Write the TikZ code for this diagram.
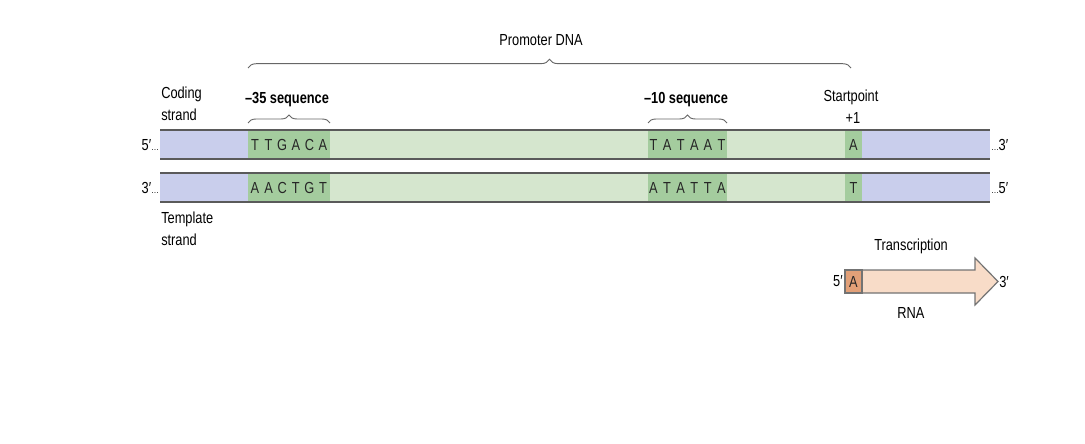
\documentclass[tikz,border=0pt]{standalone}
\usepackage{fontspec}
\setmainfont{Liberation Sans}[FakeStretch=0.8]
\usetikzlibrary{decorations.pathreplacing}

\definecolor{strandblue}{RGB}{201,206,236}
\definecolor{promgreen}{RGB}{213,230,206}
\definecolor{boxgreen}{RGB}{164,204,158}
\definecolor{rnafill}{RGB}{248,220,200}
\definecolor{rnabox}{RGB}{226,160,120}
\definecolor{edgegray}{RGB}{90,90,90}

\tikzset{
  lbl/.style={font=\fontsize{12}{16.5}\selectfont, inner sep=0pt},
  seqlbl/.style={font=\bfseries\fontsize{12}{14}\selectfont, inner sep=0pt},
  base/.style={font=\fontsize{12}{14}\selectfont, inner sep=0pt, text=black!85},
  bracebig/.style={draw=black!60, line width=0.7pt, decorate, decoration={brace, amplitude=6.5pt}},
  bracesmall/.style={draw=black!60, line width=0.7pt, decorate, decoration={brace, amplitude=6pt}},
  edge/.style={draw=edgegray, line width=1.1pt}
}

\begin{document}
\begin{tikzpicture}[x=0.75pt,y=0.75pt,yscale=-1]
\useasboundingbox (0,0) rectangle (1085,443);

% strands
\fill[strandblue] (160,130) rectangle (990,159);
\fill[strandblue] (160,173) rectangle (990,202);
\fill[promgreen] (248,130) rectangle (862,159);
\fill[promgreen] (248,173) rectangle (862,202);
\foreach \ya/\yb in {130/159,173/202}{
  \fill[boxgreen] (248,\ya) rectangle (330,\yb);
  \fill[boxgreen] (648,\ya) rectangle (727,\yb);
  \fill[boxgreen] (845,\ya) rectangle (862,\yb);
}
\foreach \y in {130,159,173,202}
  \draw[edge] (160,\y) -- (990,\y);

% bases
\foreach \b [count=\i] in {T,T,G,A,C,A}
  \node[base] (cod35-\i) at (255+13.6*\i-13.6,145) {\b};
\foreach \b [count=\i] in {A,A,C,T,G,T}
  \node[base] (tem35-\i) at (255+13.6*\i-13.6,188) {\b};
\foreach \b [count=\i] in {T,A,T,A,A,T}
  \node[base] (cod10-\i) at (653.5+13.6*\i-13.6,145) {\b};
\foreach \b [count=\i] in {A,T,A,T,T,A}
  \node[base] (tem10-\i) at (653.5+13.6*\i-13.6,188) {\b};
\node[base] (startA) at (853.5,145) {A};
\node[base] (startT) at (853.5,188) {T};

% strand ends
\node[lbl, anchor=east] (cod5) at (159,145) {5′{\scriptsize…}};
\node[lbl, anchor=east] (tem3) at (159,188) {3′{\scriptsize…}};
\node[lbl, anchor=west] (cod3) at (991,145) {{\scriptsize…}3′};
\node[lbl, anchor=west] (tem5) at (991,188) {{\scriptsize…}5′};

\node[lbl, anchor=west, align=left] (coding) at (161,104) {Coding\\strand};
\node[lbl, anchor=west, align=left] (template) at (161,229) {Template\\strand};

% braces and labels
\coordinate (b35l) at (248,123);
\coordinate (b35r) at (330,123);
\draw[bracesmall] (b35l) -- (b35r);
\node[seqlbl] (seq35) at (287,100) {–35 sequence};
\coordinate (b10l) at (648,123);
\coordinate (b10r) at (727,123);
\draw[bracesmall] (b10l) -- (b10r);
\node[seqlbl] (seq10) at (686,100) {–10 sequence};
\coordinate (promL) at (248,68);
\coordinate (promR) at (851,68);
\draw[bracebig] (promL) -- (promR);
\node[lbl] (promoter) at (541,40) {Promoter DNA};
\node[lbl] (startpoint) at (851,97) {Startpoint};
\node[lbl] (plusone) at (853,118) {+1};

% RNA arrow
\draw[draw=black!55, fill=rnafill, line width=0.9pt] (845,270) -- (975,270) -- (975,258) -- (998,281.5)
  -- (975,305) -- (975,293) -- (845,293) -- cycle;
\draw[draw=black!55, fill=rnabox, line width=0.9pt] (845,270) rectangle (862,293);
\node[base] (rnaA) at (853.5,281.5) {A};
\node[lbl, anchor=east] (rna5) at (843,281.5) {5′};
\node[lbl, anchor=west] (rna3) at (999,281.5) {3′};
\node[lbl] (transcription) at (911,246) {Transcription};
\node[lbl] (rna) at (911,313) {RNA};
\end{tikzpicture}
\end{document}
